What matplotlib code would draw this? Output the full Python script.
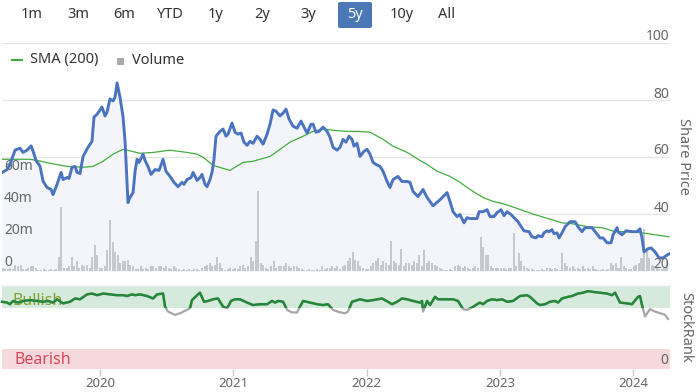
import numpy as np
import matplotlib
matplotlib.use("Agg")
import matplotlib.pyplot as plt
from matplotlib.patches import Rectangle, FancyBboxPatch
from matplotlib import transforms

plt.rcParams['font.family'] = ['Noto Sans', 'DejaVu Sans']

# ---------------- data ----------------
price_t = [2019.265, 2019.303, 2019.325, 2019.363, 2019.400, 2019.423, 2019.453, 2019.483, 2019.498, 2019.520,
           2019.550, 2019.573, 2019.603, 2019.633, 2019.648, 2019.678, 2019.708, 2019.723, 2019.753, 2019.768,
           2019.790, 2019.813, 2019.828, 2019.850, 2019.873, 2019.910, 2019.940, 2019.955, 2019.978, 2020.015,
           2020.038, 2020.053, 2020.075, 2020.098, 2020.113, 2020.128, 2020.150, 2020.173, 2020.188, 2020.210,
           2020.225, 2020.248, 2020.263, 2020.278, 2020.293, 2020.323, 2020.338, 2020.360, 2020.383, 2020.413,
           2020.443, 2020.473, 2020.495, 2020.525, 2020.555, 2020.585, 2020.615, 2020.630, 2020.653, 2020.683,
           2020.698, 2020.728, 2020.750, 2020.765, 2020.788, 2020.803, 2020.825, 2020.840, 2020.855, 2020.870,
           2020.900, 2020.923, 2020.945, 2020.960, 2020.990, 2021.013, 2021.035, 2021.058, 2021.080, 2021.103,
           2021.125, 2021.148, 2021.178, 2021.200, 2021.223, 2021.253, 2021.275, 2021.298, 2021.320, 2021.350,
           2021.373, 2021.395, 2021.418, 2021.448, 2021.478, 2021.508, 2021.530, 2021.553, 2021.583, 2021.598,
           2021.620, 2021.643, 2021.673, 2021.703, 2021.725, 2021.748, 2021.778, 2021.800, 2021.823, 2021.845,
           2021.868, 2021.890, 2021.905, 2021.928, 2021.950, 2021.980, 2022.003, 2022.025, 2022.048, 2022.070,
           2022.100, 2022.123, 2022.153, 2022.175, 2022.198, 2022.235, 2022.265, 2022.303, 2022.325, 2022.348,
           2022.385, 2022.423, 2022.453, 2022.498, 2022.550, 2022.603, 2022.625, 2022.648, 2022.678, 2022.700,
           2022.730, 2022.753, 2022.775, 2022.828, 2022.843, 2022.873, 2022.903, 2022.925, 2022.955, 2022.978,
           2023.008, 2023.030, 2023.053, 2023.083, 2023.105, 2023.135, 2023.150, 2023.180, 2023.218, 2023.240,
           2023.270, 2023.285, 2023.315, 2023.330, 2023.353, 2023.368, 2023.390, 2023.405, 2023.428, 2023.443,
           2023.465, 2023.488, 2023.525, 2023.563, 2023.585, 2023.615, 2023.638, 2023.675, 2023.690, 2023.720,
           2023.750, 2023.773, 2023.803, 2023.833, 2023.848, 2023.878, 2023.885, 2023.915, 2023.945, 2023.990,
           2024.028, 2024.050, 2024.065, 2024.080, 2024.110, 2024.133, 2024.163, 2024.193, 2024.223, 2024.253,
           2024.268]
price = [54.5, 55.6, 57.4, 62.4, 63.1, 61.6, 62.4, 63.9, 62.1, 58.8,
         56.8, 51.5, 49.3, 48.6, 46.8, 50.4, 54.6, 52.1, 52.8, 52.5,
         56.4, 56.7, 54.6, 54.2, 60.2, 63.4, 65.5, 74.0, 75.0, 77.5,
         74.4, 75.8, 80.4, 79.7, 81.0, 86.0, 81.0, 74.0, 65.5, 44.0,
         45.8, 47.5, 55.0, 59.2, 58.1, 61.0, 58.8, 56.7, 53.9, 55.6,
         55.3, 59.2, 55.0, 53.2, 51.1, 49.6, 51.1, 50.4, 52.1, 52.8,
         54.6, 51.8, 52.8, 53.9, 50.4, 49.6, 52.1, 54.6, 59.2, 67.3,
         69.0, 69.8, 67.3, 68.0, 71.9, 68.7, 68.0, 68.4, 65.2, 64.1,
         65.5, 64.8, 67.3, 66.2, 64.5, 68.0, 71.5, 76.5, 76.1, 74.4,
         75.4, 76.8, 73.3, 70.8, 70.1, 72.6, 70.5, 68.4, 71.5, 71.5,
         68.7, 69.0, 70.5, 69.0, 66.9, 63.4, 62.4, 63.4, 66.2, 65.2,
         67.3, 66.2, 63.8, 64.8, 60.2, 62.0, 62.7, 61.0, 58.1, 57.4,
         56.7, 55.0, 51.4, 49.3, 52.1, 53.2, 51.4, 51.4, 51.1, 47.9,
         46.1, 48.6, 45.8, 42.9, 45.0, 47.5, 44.4, 40.8, 39.1, 39.8,
         36.9, 38.7, 38.4, 38.4, 40.8, 40.8, 41.5, 39.1, 39.1, 40.5,
         41.5, 39.4, 40.8, 39.8, 38.7, 37.3, 36.2, 34.1, 33.8, 32.0,
         31.6, 32.4, 32.0, 33.4, 34.1, 33.8, 34.5, 33.1, 33.4, 31.6,
         33.4, 35.5, 37.3, 37.3, 35.5, 33.8, 35.2, 35.2, 35.2, 33.4,
         31.6, 31.6, 29.9, 29.9, 32.7, 35.2, 33.8, 32.7, 34.1, 33.8,
         33.8, 34.8, 31.6, 26.7, 27.8, 28.1, 26.7, 24.6, 24.6, 25.6,
         26.0]

sma_t = [2019.265, 2019.475, 2019.528, 2019.625, 2019.753, 2019.873, 2019.948, 2020.023, 2020.098, 2020.173,
         2020.240, 2020.300, 2020.398, 2020.525, 2020.653, 2020.728, 2020.773, 2020.848, 2020.923, 2020.975,
         2021.013, 2021.073, 2021.148, 2021.200, 2021.275, 2021.350, 2021.425, 2021.523, 2021.598, 2021.673,
         2021.748, 2021.838, 2021.928, 2022.025, 2022.123, 2022.198, 2022.303, 2022.400, 2022.453, 2022.528,
         2022.625, 2022.700, 2022.798, 2022.873, 2022.948, 2023.023, 2023.113, 2023.240, 2023.360, 2023.465,
         2023.540, 2023.660, 2023.765, 2023.863, 2023.990, 2024.110, 2024.268]
sma = [59.2, 59.2, 58.8, 57.8, 56.7, 56.4, 56.7, 58.5, 61.0, 62.7,
       62.0, 61.3, 61.6, 62.4, 61.6, 61.0, 59.9, 57.1, 56.0, 55.3,
       56.4, 58.1, 58.5, 59.2, 60.2, 62.7, 65.2, 67.3, 69.0, 69.8,
       69.4, 69.0, 69.0, 68.7, 66.2, 63.8, 61.6, 58.8, 57.4, 55.0,
       53.2, 51.1, 47.9, 45.8, 44.4, 43.6, 42.2, 40.1, 38.4, 36.9,
       36.6, 35.5, 35.2, 33.8, 33.8, 33.1, 32.0]

# weekly volume (millions), first week starting 2019.27
vol_start = 2019.27
volume = [2, 1, 1.5, 2, 1, 4, 3, 4, 1, 1,
          2, 3, 3, 2, 0.5, 0.5, 1, 0.5, 0.5, 1,
          0.5, 1, 9, 40, 2, 2, 3, 9, 3, 6,
          2, 4, 3, 4, 2, 9, 16, 10, 2, 2,
          3, 13, 32, 18, 12, 10, 5, 6, 6, 7,
          4, 3, 1, 1, 3, 1, 2, 1, 3, 3,
          2, 3, 3, 2, 3, 2, 1, 3, 2, 1,
          0.5, 1, 0.5, 1, 0.5, 1, 1, 0.5, 2, 3,
          4, 5, 3, 4, 9, 5, 2, 0.5, 1, 2,
          1, 2, 1, 3, 4, 2, 3, 9, 6, 19,
          50, 5, 4, 2, 1, 3, 6, 2, 3, 3,
          3, 5, 3, 2, 3, 3, 2, 1, 0.5, 0.5,
          1, 0.5, 0.5, 1, 0.5, 3, 1, 2, 2, 3,
          2, 3, 1, 3, 4, 6, 8, 12, 7, 6,
          3, 2, 1, 1, 3, 5, 6, 8, 4, 6,
          5, 4, 19, 6, 5, 4, 14, 3, 5, 5,
          4, 6, 5, 10, 3, 13, 5, 6, 5, 4,
          3, 2, 1, 0.5, 0.5, 1, 0.5, 3, 4, 3,
          2, 3, 2, 1, 2, 3, 2, 21, 15, 10,
          10, 3, 2, 2, 2, 2, 2, 1, 2, 2,
          24, 3, 11, 6, 3, 2, 1, 1, 0.5, 0.5,
          0.5, 1, 0.5, 2, 2, 1, 2, 1, 0.5, 11,
          5, 3, 2, 3, 1, 2, 1, 3, 1, 2,
          1, 3, 1, 0.5, 0.5, 1, 0.5, 1, 5, 4,
          5, 2, 9, 3, 2, 1, 1, 3, 4, 5,
          8, 26, 14, 8, 4, 3, 2, 1, 1, 2,
          6]

rank_t = [2019.265, 2019.303, 2019.325, 2019.348, 2019.385, 2019.423, 2019.475, 2019.528, 2019.573, 2019.610,
          2019.648, 2019.678, 2019.723, 2019.775, 2019.813, 2019.850, 2019.903, 2019.940, 2019.978, 2020.023,
          2020.075, 2020.128, 2020.173, 2020.203, 2020.240, 2020.263, 2020.300, 2020.353, 2020.398, 2020.428,
          2020.473, 2020.488, 2020.510, 2020.563, 2020.600, 2020.638, 2020.675, 2020.690, 2020.728, 2020.750,
          2020.780, 2020.810, 2020.848, 2020.885, 2020.923, 2020.953, 2020.983, 2021.013, 2021.050, 2021.103,
          2021.148, 2021.200, 2021.253, 2021.290, 2021.313, 2021.335, 2021.373, 2021.403, 2021.440, 2021.478,
          2021.500, 2021.523, 2021.575, 2021.628, 2021.673, 2021.710, 2021.748, 2021.800, 2021.838, 2021.860,
          2021.890, 2021.950, 2022.003, 2022.048, 2022.115, 2022.160, 2022.190, 2022.228, 2022.265, 2022.303,
          2022.348, 2022.400, 2022.415, 2022.423, 2022.453, 2022.475, 2022.513, 2022.535, 2022.573, 2022.648,
          2022.685, 2022.723, 2022.753, 2022.790, 2022.828, 2022.850, 2022.873, 2022.903, 2022.940, 2022.978,
          2023.015, 2023.053, 2023.098, 2023.150, 2023.203, 2023.225, 2023.278, 2023.300, 2023.338, 2023.375,
          2023.413, 2023.435, 2023.465, 2023.510, 2023.540, 2023.585, 2023.623, 2023.660, 2023.698, 2023.750,
          2023.803, 2023.840, 2023.863, 2023.900, 2023.953, 2023.990, 2024.035, 2024.050, 2024.065, 2024.088,
          2024.125, 2024.163, 2024.200, 2024.238, 2024.260]
rank = [82, 81, 79, 83, 81, 83, 84, 83, 82, 83,
        81, 85, 80, 82, 86, 85, 91, 92, 90, 92,
        91, 90, 90, 89, 91, 90, 91, 89, 86, 91,
        92, 76, 70, 66, 68, 71, 74, 84, 90, 93,
        82, 83, 85, 86, 76, 74, 83, 85, 85, 81,
        78, 79, 79, 83, 81, 83, 82, 72, 69, 69,
        76, 83, 81, 79, 78, 79, 72, 69, 68, 70,
        82, 85, 83, 84, 86, 82, 79, 82, 86, 85,
        83, 81, 83, 70, 83, 78, 88, 85, 85, 85,
        83, 73, 72, 75, 79, 81, 79, 83, 85, 84,
        85, 82, 83, 89, 90, 88, 80, 78, 79, 82,
        83, 81, 86, 88, 89, 92, 93, 95, 94, 93,
        92, 90, 93, 81, 80, 79, 88, 89, 78, 64,
        73, 70, 68, 66, 61]

years = [2020, 2021, 2022, 2023, 2024]
price_ticks = [20, 40, 60, 80, 100]
vol_ticks = [0, 20, 40, 60]
buttons = ["1m", "3m", "6m", "YTD", "1y", "2y", "3y", "5y", "10y", "All"]
selected = "5y"

# ---------------- styling ----------------
W, H = 698, 392
BLUE = '#4a74bf'
GREEN_SMA = '#43ad3f'
FILL = '#f3f5fa'
VOLC = '#c6c8ce'
GRID = '#e6e6e6'
TXT = '#666666'
XMIN, XMAX = 2019.265, 2024.275

fig = plt.figure(figsize=(W / 100, H / 100), dpi=100)
fig.patch.set_facecolor('white')


def rect(x0, y0, x1, y1):
    return [x0 / W, 1 - y1 / H, (x1 - x0) / W, (y1 - y0) / H]


def clean(ax):
    for s in ax.spines.values():
        s.set_visible(False)
    ax.set_xticks([])
    ax.set_yticks([])
    ax.patch.set_visible(False)


# main price axes (fill + grid)
ax_p = fig.add_axes(rect(2, 43, 670, 271))
clean(ax_p)
ax_p.set_xlim(XMIN, XMAX)
ax_p.set_ylim(20, 100)
for v in price_ticks:
    ax_p.axhline(v, color=GRID if v != 20 else '#d9d9d9', lw=1.0, zorder=0)
ax_p.fill_between(price_t, price, 20, color=FILL, lw=0, zorder=1)

# volume axes
ax_v = fig.add_axes(rect(2, 43, 670, 271))
clean(ax_v)
ax_v.set_xlim(XMIN, XMAX)
ax_v.set_ylim(0, 142.5)
vol_t = [vol_start + i * 7 / 365.25 for i in range(len(volume))]
ax_v.bar(vol_t, volume, width=5.5 / 365.25, color=VOLC, lw=0, align='center')

# volume labels (left)
for v in vol_ticks:
    tr = transforms.offset_copy(ax_v.get_yaxis_transform(), fig=fig, x=2, y=8, units='dots')
    ax_v.text(0.0, v, ('%dm' % v) if v else '0', transform=tr,
              ha='left', va='center', fontsize=10, color=TXT, zorder=5)

# line axes
ax_l = fig.add_axes(rect(2, 43, 670, 271))
clean(ax_l)
ax_l.set_xlim(XMIN, XMAX)
ax_l.set_ylim(20, 100)
ax_l.plot(sma_t, sma, color=GREEN_SMA, lw=0.9, zorder=2)
ax_l.plot(price_t, price, color=BLUE, lw=2.1, zorder=3, solid_joinstyle='round')

# price labels (right)
for v in price_ticks:
    tr = transforms.offset_copy(ax_l.get_yaxis_transform(), fig=fig, x=-1, y=6, units='dots')
    ax_l.text(1.0, v, str(v), transform=tr, ha='right', va='center', fontsize=10, color=TXT, zorder=5)

fig.text(684 / W, 1 - 157 / H, "Share Price", rotation=270, ha='center', va='center',
         fontsize=10.5, color=TXT)

# ---------------- StockRank panel ----------------
ax_r = fig.add_axes(rect(2, 287, 670, 369))
for s in ax_r.spines.values():
    s.set_visible(False)
ax_r.set_xlim(XMIN, XMAX)
ax_r.set_ylim(0, 100)
ax_r.set_yticks([])
ax_r.axhspan(75, 100, color='#d5e9dc', lw=0, zorder=0)
ax_r.axhspan(0, 25, color='#f6d9dc', lw=0, zorder=0)
ax_r.plot(rank_t, rank, color='#a6a6a6', lw=1.6, zorder=2)
gl, = ax_r.plot(rank_t, rank, color='#228739', lw=1.8, zorder=3)
clip = Rectangle((XMIN - 1, 75), XMAX - XMIN + 2, 40, transform=ax_r.transData)
gl.set_clip_path(clip)
ax_r.text(0.016, 83, "Bullish", transform=ax_r.get_yaxis_transform(), fontsize=11.5,
          color='#7a9a1e', alpha=0.9, va='center', ha='left', zorder=1)
ax_r.text(0.018, 11.5, "Bearish", transform=ax_r.get_yaxis_transform(), fontsize=11.5,
          color='#d8485a', va='center', ha='left', zorder=1)
tr0 = transforms.offset_copy(ax_r.get_yaxis_transform(), fig=fig, x=-2, y=8, units='dots')
ax_r.text(1.0, 0, "0", transform=tr0, ha='right', va='center', fontsize=10, color=TXT)
ax_r.set_xticks(years)
ax_r.set_xticklabels([str(y) for y in years])
ax_r.tick_params(axis='x', length=5, width=1, color='#cccccc', labelsize=9.5, labelcolor=TXT, pad=0.5)
fig.text(686 / W, 1 - 327 / H, "StockRank", rotation=270, ha='center', va='center',
         fontsize=10.5, color=TXT)

# separator line at top of rank panel
fig.add_artist(plt.Line2D([2 / W, 670 / W], [1 - 286 / H, 1 - 286 / H], color='#e6e6e6', lw=1))

# ---------------- range buttons ----------------
btn_x = [32, 78, 124, 170, 216, 262, 308, 355, 402, 447]
for b, bx in zip(buttons, btn_x):
    if b == selected:
        box = FancyBboxPatch(((bx - 17) / W, 1 - 28 / H), 34 / W, 26 / H,
                             boxstyle="round,pad=0,rounding_size=0.004",
                             transform=fig.transFigure, color='#4a77b6', lw=0)
        fig.add_artist(box)
        fig.text(bx / W, 1 - 15 / H, b, ha='center', va='center', fontsize=10.5, color='white')
    else:
        fig.text(bx / W, 1 - 15 / H, b, ha='center', va='center', fontsize=10.5, color='#333333')

# ---------------- legend ----------------
fig.add_artist(plt.Line2D([12 / W, 22 / W], [1 - 60 / H, 1 - 60 / H], color=GREEN_SMA, lw=1.5))
fig.text(30 / W, 1 - 60 / H, "SMA (200)", ha='left', va='center', fontsize=10.5, color='#333333')
fig.add_artist(Rectangle((117 / W, 1 - 65 / H), 7 / W, 7 / H, transform=fig.transFigure,
                         color='#aaaaaa', lw=0))
fig.text(132 / W, 1 - 60 / H, "Volume", ha='left', va='center', fontsize=10.5, color='#333333')

fig.savefig("out.png", dpi=100)
